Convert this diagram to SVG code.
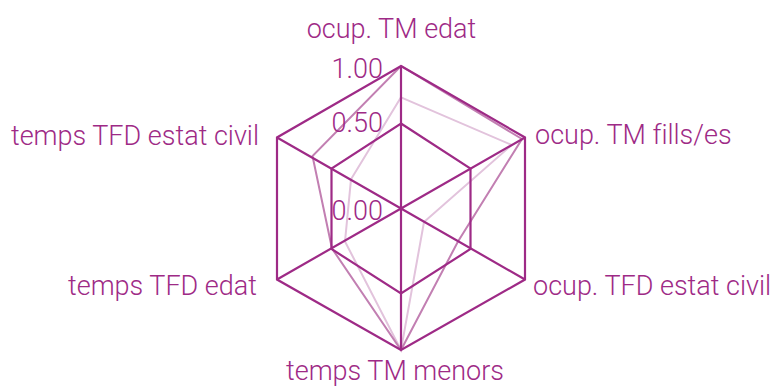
<svg xmlns="http://www.w3.org/2000/svg" width="776" height="387" viewBox="0 0 776 387">
<style>
.lbl{font-family:Roboto,"Liberation Sans",sans-serif;font-weight:300;font-size:27px;fill:#9e2a86;font-variant-ligatures:none}
.grid{fill:none;stroke:#9e2a86;stroke-width:2.2;stroke-linejoin:miter}
.s1{fill:none;stroke:#c27fb2;stroke-width:2}
.s2{fill:none;stroke:#e2c3dc;stroke-width:2}
</style>
<rect width="776" height="387" fill="#ffffff"/>
<g id="series">
<polygon class="s2" points="401,97.3 511.7,145 424,222 401,350 345,241.5 351,179.3"/>
<polygon class="s1" points="401,66 522,139 458,241.5 401,350 332,248.5 312.5,156"/>
</g>
<g id="grid">
<polygon class="grid" points="401,66 525,137.5 525,279.5 401,350 277,279.5 277,137.5"/>
<polygon class="grid" points="401,123.5 470.5,168.5 470.5,249 401,293.5 331.5,249 331.5,168.5"/>
<path class="grid" d="M401,208.5L401,66M401,208.5L525,137.5M401,208.5L525,279.5M401,208.5L401,350M401,208.5L277,279.5M401,208.5L277,137.5"/>
</g>
<g id="ticks">
<text class="lbl" x="383" y="78" text-anchor="end">1.00</text>
<text class="lbl" x="383" y="132" text-anchor="end">0.50</text>
<text class="lbl" x="383" y="220" text-anchor="end">0.00</text>
</g>
<g id="axis-labels">
<text class="lbl" x="391.5" y="38" text-anchor="middle">ocup. TM edat</text>
<text class="lbl" x="535" y="143.5">ocup. TM fills/es</text>
<text class="lbl" x="533" y="295">ocup. TFD estat civil</text>
<text class="lbl" x="395" y="380" text-anchor="middle">temps TM menors</text>
<text class="lbl" x="257" y="295" text-anchor="end">temps TFD edat</text>
<text class="lbl" x="259" y="144.5" text-anchor="end">temps TFD estat civil</text>
</g>
</svg>
